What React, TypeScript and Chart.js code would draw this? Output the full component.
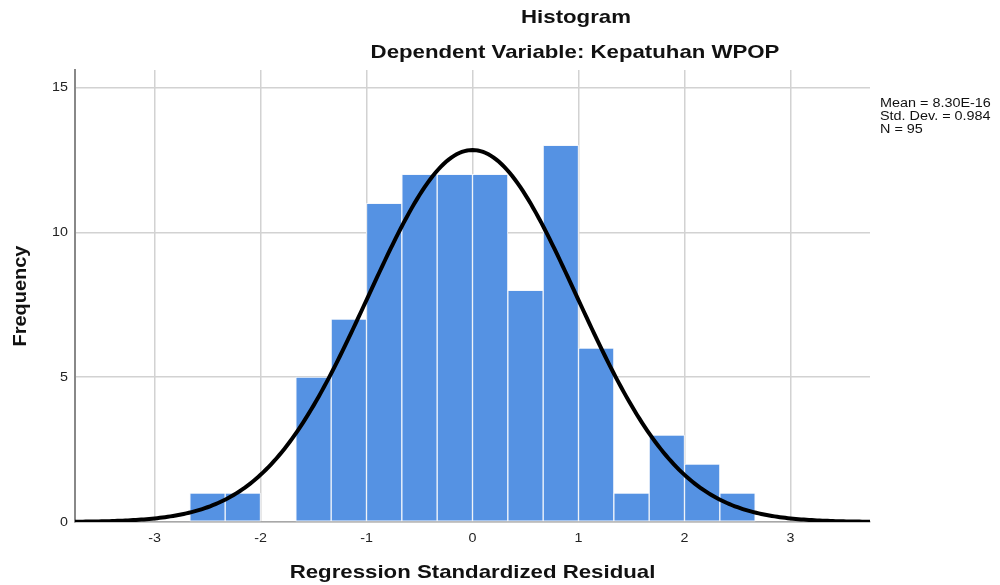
import React, { useEffect, useRef } from "react";
import { Chart, registerables } from "chart.js";

Chart.register(...registerables);

// Histogram bins (lower edges) and frequencies
const binEdges = [-2.6667, -2.3333, -2.0, -1.6667, -1.3333, -1.0, -0.6667, -0.3333, 0.0, 0.3333, 0.6667, 1.0, 1.3333, 1.6667, 2.0, 2.3333];
const frequencies = [1, 1, 0, 5, 7, 11, 12, 12, 12, 8, 13, 6, 1, 3, 2, 1];
const binWidth = 1 / 3;

// Summary statistics shown in the chart
const mean = 8.3e-16;
const stdDev = 0.984;
const nObs = 95;
const statsLines = ["Mean = 8.30E-16", "Std. Dev. = 0.984", "N = 95"];

const xTicks = [-3, -2, -1, 0, 1, 2, 3];
const yTicks = [0, 5, 10, 15];

const titleText = "Histogram";
const subtitleText = "Dependent Variable: Kepatuhan WPOP";
const xTitle = "Regression Standardized Residual";
const yTitle = "Frequency";

const X_MIN = -3.75;
const X_MAX = 3.75;
const STRETCH = 1.17;
const FAMILY = "'Liberation Sans', Arial, sans-serif";

function normalCurve() {
  const pts: { x: number; y: number }[] = [];
  const steps = 300;
  for (let i = 0; i <= steps; i++) {
    const x = X_MIN + ((X_MAX - X_MIN) * i) / steps;
    const z = (x - mean) / stdDev;
    const y = (nObs * binWidth) / (stdDev * Math.sqrt(2 * Math.PI)) * Math.exp(-0.5 * z * z);
    pts.push({ x, y });
  }
  return pts;
}

function stretchedText(ctx: any, text: string, x: number, y: number, align: string, sx = STRETCH) {
  ctx.save();
  ctx.translate(x, y);
  ctx.scale(sx, 1);
  ctx.textAlign = align;
  ctx.fillText(text, 0, 0);
  ctx.restore();
}

const textPlugin = {
  id: "textPlugin",
  afterDraw(chart: any) {
    const { ctx, chartArea, scales } = chart;
    ctx.save();
    ctx.fillStyle = "#111";
    ctx.textBaseline = "middle";
    ctx.font = `bold 19px ${FAMILY}`;
    stretchedText(ctx, titleText, 576, 18, "center");
    stretchedText(ctx, subtitleText, 575, 53, "center");
    stretchedText(ctx, xTitle, (chartArea.left + chartArea.right) / 2, 573, "center");
    ctx.save();
    ctx.translate(21, 296);
    ctx.rotate(-Math.PI / 2);
    ctx.scale(1.05, 1);
    ctx.textAlign = "center";
    ctx.fillText(yTitle, 0, 0);
    ctx.restore();

    // tick labels
    ctx.fillStyle = "#222";
    ctx.font = `13px ${FAMILY}`;
    xTicks.forEach((v) => {
      stretchedText(ctx, String(v), scales.x.getPixelForValue(v), 538, "center", 1.1);
    });
    yTicks.forEach((v) => {
      stretchedText(ctx, String(v), 68, scales.y.getPixelForValue(v), "right", 1.1);
    });

    ctx.textBaseline = "alphabetic";
    ctx.font = `12px ${FAMILY}`;
    ctx.fillStyle = "#111";
    statsLines.forEach((s, i) => stretchedText(ctx, s, 880, 107 + i * 13, "left", 1.2));
    ctx.restore();
  },
};

export default function App() {
  const ref = useRef<HTMLCanvasElement>(null);
  useEffect(() => {
    document.body.style.margin = "0";
    const barData = binEdges.map((e, i) => ({ x: e + binWidth / 2, y: frequencies[i] }));
    const chart = new Chart(ref.current!, {
      type: "bar",
      data: {
        datasets: [
          {
            type: "line",
            data: normalCurve(),
            borderColor: "#000",
            borderWidth: 4,
            pointRadius: 0,
            tension: 0,
            order: 0,
          } as any,
          {
            type: "bar",
            data: barData,
            backgroundColor: "#5592e3",
            borderColor: "#f4f7fc",
            borderWidth: 1,
            borderSkipped: false,
            barPercentage: 1,
            categoryPercentage: 1,
            order: 1,
          } as any,
        ],
      },
      options: {
        responsive: false,
        animation: false,
        layout: { padding: { top: 70, right: 130, left: 0, bottom: 0 } },
        plugins: { legend: { display: false }, tooltip: { enabled: false } },
        scales: {
          x: {
            type: "linear",
            offset: false,
            min: X_MIN,
            max: X_MAX,
            afterBuildTicks: (scale: any) => {
              scale.ticks = xTicks.map((v) => ({ value: v }));
            },
            afterFit: (scale: any) => {
              scale.height = 63;
            },
            ticks: { display: false, includeBounds: false },
            grid: { color: "#d2d2d2", lineWidth: 1.5, drawTicks: false, offset: false },
            border: { color: "#a8a8a8", width: 1.5 },
          },
          y: {
            type: "linear",
            min: 0,
            max: 15.6,
            afterBuildTicks: (scale: any) => {
              scale.ticks = yTicks.map((v) => ({ value: v }));
            },
            afterFit: (scale: any) => {
              scale.width = 75;
            },
            ticks: { display: false, includeBounds: false },
            grid: { color: "#d2d2d2", lineWidth: 1.5, drawTicks: false },
            border: { color: "#888", width: 2 },
          },
        },
      },
      plugins: [textPlugin],
    });
    return () => chart.destroy();
  }, []);
  return (
    <div style={{ width: 1000, height: 585, background: "#fff" }}>
      <canvas ref={ref} width={1000} height={585} style={{ display: "block" }} />
    </div>
  );
}
